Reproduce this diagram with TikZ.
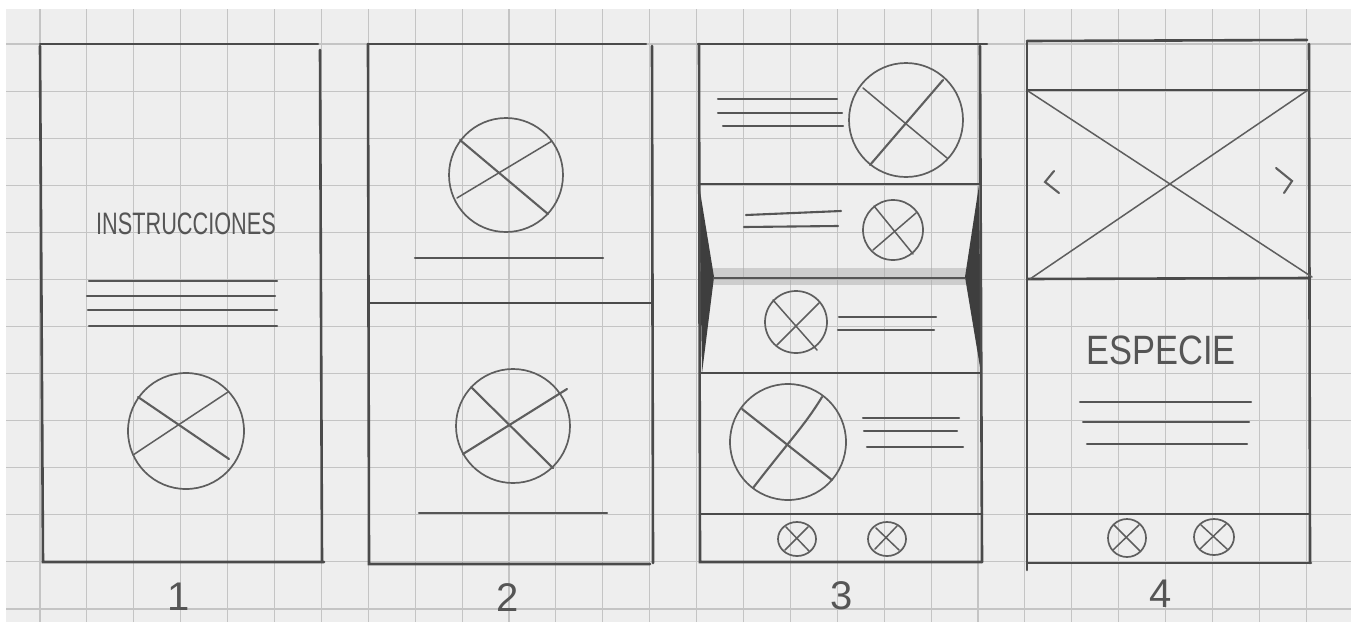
\documentclass[tikz,border=0pt]{standalone}
\usepackage{fontspec}
\setmainfont{Liberation Sans}
\definecolor{paper}{HTML}{EEEEEE}
\definecolor{gridC}{HTML}{C4C4C4}
\definecolor{frameC}{HTML}{4A4A4A}
\definecolor{lineC}{HTML}{555555}
\definecolor{circC}{HTML}{5E5E5E}
\definecolor{shadeC}{HTML}{3E3E3E}
\tikzset{
  gridline/.style={draw=gridC, line width=1.1},
  framel/.style={draw=frameC, line width=2.6, line cap=round},
  txtl/.style={draw=lineC, line width=2.1, line cap=round},
  circ/.style={draw=circC, line width=1.7},
  xthick/.style={draw=circC, line width=2.1, line cap=round},
  xthin/.style={draw=circC, line width=1.5, line cap=round},
  hand/.style={text=lineC, inner sep=0pt},
  num/.style={text=lineC, inner sep=0pt, font=\fontsize{40}{40}\selectfont},
}
\begin{document}
\begin{tikzpicture}[x=1pt,y=-1pt]
\useasboundingbox (0,0) rectangle (1351,622);
\fill[white] (0,0) rectangle (1351,622);
\fill[paper] (6,9) rectangle (1351,622);
\foreach \k in {0,...,27} \draw[gridline] ({40+46.9*\k},9) -- ({40+46.9*\k},622);
\foreach \j in {0,...,12} \draw[gridline] (6,{44+47.08*\j}) -- (1351,{44+47.08*\j});

% ---------- Screen 1 ----------
\draw[framel] (40,44) -- (318,44);
\draw[framel] (40,46) -- (43,562) -- (324,562);
\draw[framel] (320,50) -- (322,562);
\node[hand] (instr) at (186,224) {\scalebox{0.7}[1]{\fontsize{31}{31}\selectfont INSTRUCCIONES}};
\draw[txtl] (89,281) -- (277,281);
\draw[txtl] (87,296) -- (275,296);
\draw[txtl] (88,310) -- (277,310);
\draw[txtl] (89,326) -- (277,326);
\draw[circ] (186,431) circle[radius=58];
\draw[xthick] (138,397) -- (229,459);
\draw[xthin] (133,455) -- (228,392);
\node[num] (n1) at (179,597) {1};

% ---------- Screen 2 ----------
\draw[framel] (368,44) -- (646,44);
\draw[framel] (368,44) -- (369,564) -- (650,564);
\draw[framel] (652,46) -- (653,563);
\draw[framel] (370,303) -- (652,303);
\draw[circ] (506,175) circle[radius=57];
\draw[xthick] (460,140) -- (548,214);
\draw[xthin] (457,198) -- (552,141);
\draw[txtl] (415,258) -- (603,258);
\draw[circ] (513,426) circle[radius=57];
\draw[xthick] (471,387) -- (553,468);
\draw[xthick] (463,454) -- (567,389);
\draw[txtl] (419,513) -- (607,513);
\node[num] (n2) at (508,598) {2};

% ---------- Screen 3 ----------
\fill[gray!70, opacity=0.45] (712,268) rectangle (966,285);
\fill[shadeC] (699,185) -- (714,277) -- (702,373) -- cycle;
\fill[shadeC] (979,185) -- (965,277) -- (981,373) -- cycle;
\draw[framel] (698,44) -- (987,44);
\draw[framel] (699,44) -- (700,562) -- (982,562);
\draw[framel] (980,46) -- (982,562);
\draw[framel] (699,184) -- (980,184);
\draw[draw=lineC, line width=2.6] (713,278) -- (965,278);
\draw[framel] (700,373) -- (981,373);
\draw[framel] (700,514) -- (982,514);
% top section
\draw[txtl] (718,99) -- (837,99);
\draw[txtl] (718,113) -- (842,113);
\draw[txtl] (723,126) -- (843,126);
\draw[circ] (906,120) circle[radius=57];
\draw[xthin] (863,88) -- (947,158);
\draw[xthick] (870,165) -- (943,80);
% section 2
\draw[txtl] (746,215) -- (841,211);
\draw[txtl] (744,227) -- (838,226);
\draw[circ] (893,230) circle[radius=30];
\draw[xthin] (874,206) -- (913,254);
\draw[xthin] (873,250) -- (916,213);
% section 3
\draw[circ] (796,322) circle[radius=31];
\draw[xthin] (773,300) -- (817,350);
\draw[xthin] (777,345) -- (819,303);
\draw[txtl] (839,317) -- (936,317);
\draw[txtl] (838,330) -- (934,330);
% section 4
\draw[circ] (788,442) circle[radius=58];
\draw[xthick] (742,409) -- (832,480);
\draw[xthick] (753,488) .. controls (790,440) and (805,425) .. (822,397);
\draw[txtl] (863,418) -- (959,418);
\draw[txtl] (864,431) -- (957,431);
\draw[txtl] (867,447) -- (963,447);
% bottom bar
\draw[circ] (797,539) ellipse[x radius=19, y radius=17];
\draw[xthin] (786,527) -- (809,551);
\draw[xthin] (785,550) -- (808,527);
\draw[circ] (887,539) ellipse[x radius=19, y radius=17];
\draw[xthin] (876,528) -- (899,550);
\draw[xthin] (875,549) -- (897,526);
\node[num] (n3) at (842,596) {3};

% ---------- Screen 4 ----------
\draw[framel] (1027,41) -- (1307,40);
\draw[framel] (1027,42) -- (1027,570);
\draw[framel] (1309,44) -- (1310,563);
\draw[framel] (1027,563) -- (1311,563);
\draw[framel] (1027,90) -- (1309,90);
\draw[framel] (1028,279) -- (1310,278);
\draw[framel] (1028,514) -- (1310,514);
\draw[xthin] (1028,91) -- (1312,277);
\draw[xthin] (1030,279) -- (1308,90);
\draw[xthick] (1054,171) -- (1045,182) -- (1059,193);
\draw[xthick] (1276,168) -- (1292,181) -- (1284,193);
\node[hand] (esp) at (1161,350) {\scalebox{0.84}[1]{\fontsize{41}{41}\selectfont ESPECIE}};
\draw[txtl] (1080,402) -- (1251,402);
\draw[txtl] (1083,422) -- (1249,422);
\draw[txtl] (1087,444) -- (1247,444);
\draw[circ] (1127,538) ellipse[x radius=19, y radius=19];
\draw[xthin] (1114,525) -- (1140,551);
\draw[xthin] (1113,550) -- (1139,525);
\draw[circ] (1214,537) ellipse[x radius=20, y radius=18];
\draw[xthin] (1201,525) -- (1227,549);
\draw[xthin] (1200,549) -- (1226,524);
\node[num] (n4) at (1161,594) {4};
\end{tikzpicture}
\end{document}
